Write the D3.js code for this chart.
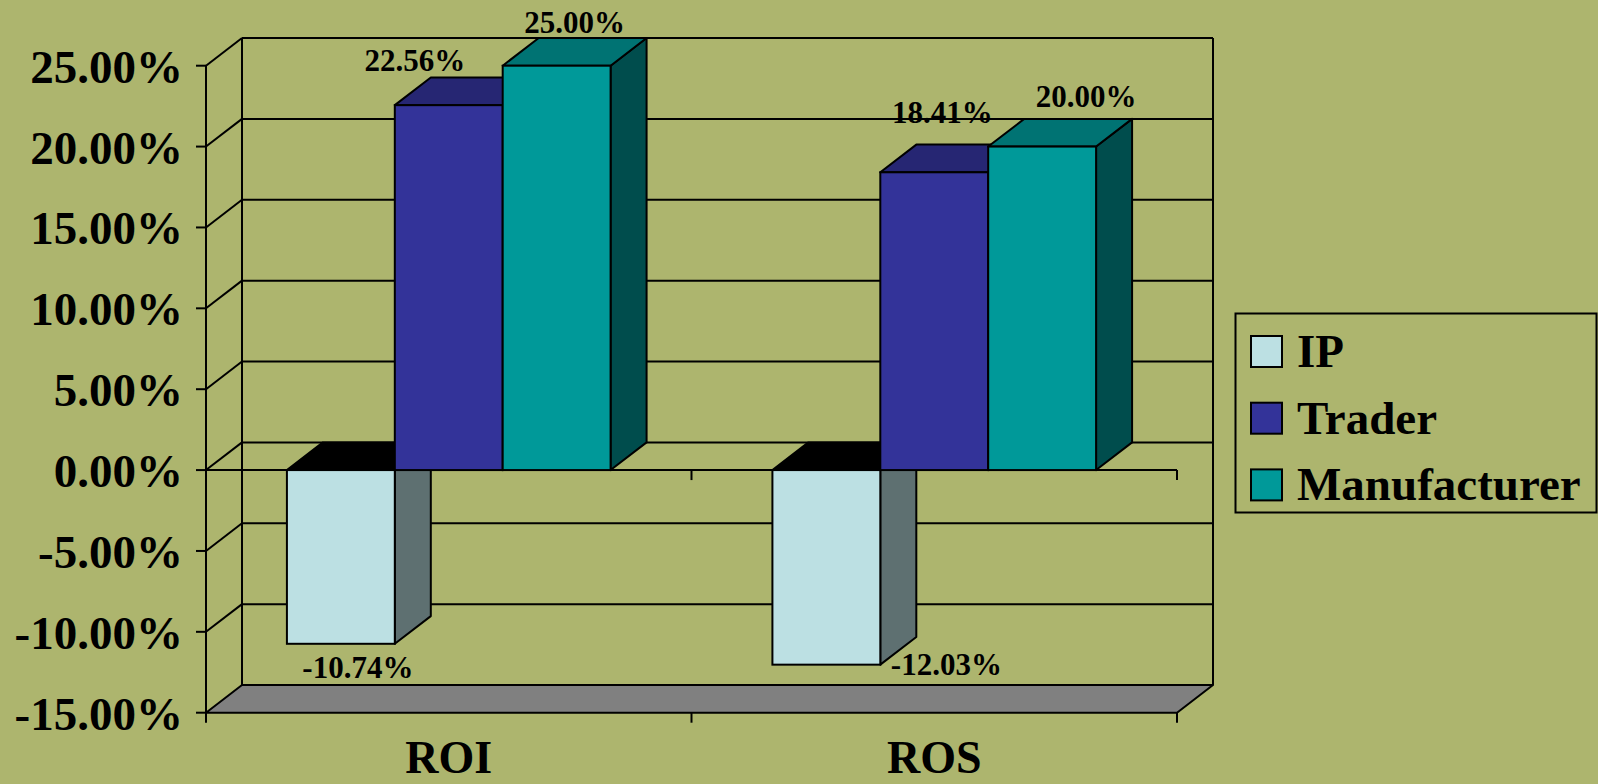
<!DOCTYPE html>
<html>
<head>
<meta charset="utf-8">
<script src="https://cdn.jsdelivr.net/npm/d3@7/dist/d3.min.js"></script>
<style>
  html, body { margin: 0; padding: 0; background: #adb56e; }
  svg { display: block; }
  text { font-family: "Times New Roman", "Liberation Serif", serif; font-weight: bold; fill: #000; }
</style>
</head>
<body>
<svg id="chart" width="1598" height="784"></svg>
<script>
// Categories, series and their values (percent)
const categories = ["ROI", "ROS"];
const series = ["IP", "Trader", "Manufacturer"];
const ipValues = [-10.74, -12.03];
const traderValues = [22.56, 18.41];
const manufacturerValues = [25.00, 20.00];
const yTicks = [-15, -10, -5, 0, 5, 10, 15, 20, 25];

// Label nudges (px) from each bar's front centre / value position, per category then series
const labelNudge = [
  [[17, 34], [-34, -34], [18, -33]],
  [[120, 10], [8, -49], [44, -40]]
];

// Face colours: front, top, side
const faceColors = {
  IP: { front: "#bce0e3", top: "#000000", side: "#5e7071" },
  Trader: { front: "#333399", top: "#262673", side: "#1a1a4d" },
  Manufacturer: { front: "#009999", top: "#007373", side: "#004d4d" }
};

const values = { IP: ipValues, Trader: traderValues, Manufacturer: manufacturerValues };

const svg = d3.select("#chart");
const W = 1598, H = 784;
svg.append("rect").attr("width", W).attr("height", H).attr("fill", "#adb56e");

// 3-D depth offset of the back wall
const DX = 36, DY = -27.7;
const left = 206, right = 1177;

const y = d3.scaleLinear().domain([-15, 25]).range([712.7, 65.7]);
const x = d3.scaleBand().domain(categories).range([left, right]).paddingInner(0).paddingOuter(0);
const xs = d3.scaleBand().domain(series).range([0, x.bandwidth()]).paddingInner(0).paddingOuter(0.75);

const stroke = "#000";
const sw = 2;
const g = svg.append("g");

// Percent format with a plain hyphen for negatives
const locale = d3.formatLocale({ decimal: ".", thousands: ",", grouping: [3], currency: ["", ""], minus: "-" });
const fmt = locale.format(".2f");

// Floor
const yMin = y(-15);
g.append("polygon")
  .attr("points", [[left, yMin], [right, yMin], [right + DX, yMin + DY], [left + DX, yMin + DY]].join(" "))
  .attr("fill", "#808080").attr("stroke", stroke).attr("stroke-width", sw).attr("stroke-linejoin", "round");

// Back wall gridlines and left wall diagonals
yTicks.forEach(t => {
  const yy = y(t);
  if (t !== -15) {
    g.append("line").attr("x1", left + DX).attr("x2", right + DX)
      .attr("y1", yy + DY).attr("y2", yy + DY)
      .attr("stroke", stroke).attr("stroke-width", sw);
    g.append("line").attr("x1", left).attr("x2", left + DX)
      .attr("y1", yy).attr("y2", yy + DY)
      .attr("stroke", stroke).attr("stroke-width", sw);
  }
});
// Back wall verticals
[left + DX, right + DX].forEach(xx => {
  g.append("line").attr("x1", xx).attr("x2", xx)
    .attr("y1", y(25) + DY).attr("y2", y(-15) + DY)
    .attr("stroke", stroke).attr("stroke-width", sw);
});

// Value axis (front)
g.append("line").attr("x1", left).attr("x2", left)
  .attr("y1", y(25)).attr("y2", y(-15)).attr("stroke", stroke).attr("stroke-width", sw);
yTicks.forEach(t => {
  const yy = y(t);
  g.append("line").attr("x1", left - 10).attr("x2", left).attr("y1", yy).attr("y2", yy)
    .attr("stroke", stroke).attr("stroke-width", sw);
  g.append("text").attr("x", 183).attr("y", yy + 17)
    .attr("text-anchor", "end").attr("font-size", 47)
    .text(fmt(t) + "%");
});

// Category axis line at zero and at the floor, with ticks
const y0 = y(0);
g.append("line").attr("x1", left).attr("x2", right).attr("y1", y0).attr("y2", y0)
  .attr("stroke", stroke).attr("stroke-width", sw);
const tickXs = [x(categories[0]), x(categories[1]), x(categories[1]) + x.bandwidth()];
tickXs.forEach((tx, i) => {
  if (i > 0) {
    g.append("line").attr("x1", tx).attr("x2", tx).attr("y1", y0).attr("y2", y0 + 10)
      .attr("stroke", stroke).attr("stroke-width", sw);
  }
  g.append("line").attr("x1", tx).attr("x2", tx).attr("y1", yMin).attr("y2", yMin + 10)
    .attr("stroke", stroke).attr("stroke-width", sw);
});

// Bars as 3-D boxes, drawn left to right
const bars = g.append("g");
categories.forEach((cat, ci) => {
  series.forEach(s => {
    const v = values[s][ci];
    const x0 = x(cat) + xs(s);
    const w = xs.bandwidth();
    const yTop = y(Math.max(v, 0));
    const yBot = y(Math.min(v, 0));
    const c = faceColors[s];
    const bg = bars.append("g");
    bg.append("polygon")
      .attr("points", [[x0 + w, yTop], [x0 + w + DX, yTop + DY], [x0 + w + DX, yBot + DY], [x0 + w, yBot]].join(" "))
      .attr("fill", c.side).attr("stroke", stroke).attr("stroke-width", sw).attr("stroke-linejoin", "round");
    bg.append("polygon")
      .attr("points", [[x0, yTop], [x0 + w, yTop], [x0 + w + DX, yTop + DY], [x0 + DX, yTop + DY]].join(" "))
      .attr("fill", c.top).attr("stroke", stroke).attr("stroke-width", sw).attr("stroke-linejoin", "round");
    bg.append("rect").attr("x", x0).attr("y", yTop).attr("width", w).attr("height", yBot - yTop)
      .attr("fill", c.front).attr("stroke", stroke).attr("stroke-width", sw);
  });
});

// Data labels
const labels = g.append("g");
categories.forEach((cat, ci) => {
  series.forEach((s, si) => {
    const v = values[s][ci];
    const cx = x(cat) + xs(s) + xs.bandwidth() / 2;
    const [ndx, ndy] = labelNudge[ci][si];
    labels.append("text")
      .attr("x", cx + ndx).attr("y", y(v) + ndy)
      .attr("text-anchor", "middle").attr("font-size", 31)
      .text(fmt(v) + "%");
  });
});

// Category labels
categories.forEach(cat => {
  g.append("text").attr("x", x(cat) + x.bandwidth() / 2).attr("y", 773)
    .attr("text-anchor", "middle").attr("font-size", 46).text(cat);
});

// Legend
const lg = svg.append("g");
lg.append("rect").attr("x", 1235.5).attr("y", 313.5).attr("width", 361).attr("height", 199)
  .attr("fill", "none").attr("stroke", stroke).attr("stroke-width", 2);
series.forEach((s, i) => {
  const top = 336 + i * 66.7;
  lg.append("rect").attr("x", 1251).attr("y", top).attr("width", 31).attr("height", 31)
    .attr("fill", faceColors[s].front).attr("stroke", stroke).attr("stroke-width", 2);
  lg.append("text").attr("x", 1297).attr("y", top + 31).attr("font-size", 47).text(s);
});
</script>
</body>
</html>
